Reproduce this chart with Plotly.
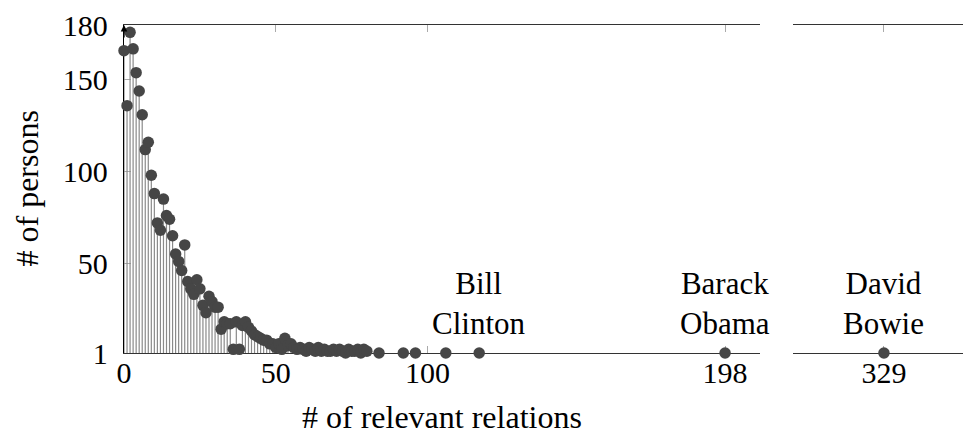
import plotly.graph_objects as go

# x: number of relevant relations, y: number of persons
relations = [0, 1, 2, 3, 4, 5, 6, 7, 8, 9, 10, 11, 12, 13, 14, 15, 16, 17, 18, 19,
             20, 21, 22, 23, 24, 25, 26, 27, 28, 29, 30, 31, 32, 33, 34, 35, 36, 37, 38, 39,
             40, 41, 42, 43, 44, 45, 46, 47, 48, 49, 50, 51, 52, 53, 54, 55, 56, 57, 58, 59,
             60, 61, 62, 63, 64, 65, 66, 67, 68, 69, 70, 71, 72, 73, 74, 75, 76, 77, 78, 79,
             80, 84, 92, 96, 106, 117, 198, 329]
persons = [166, 136, 176, 167, 154, 144, 131, 112, 116, 98, 88, 72, 68, 85, 76, 74, 65, 55, 51, 46,
           60, 40, 36, 33, 41, 36, 27, 23, 32, 29, 26, 26, 14, 18, 17, 17, 3, 18, 3, 16,
           18, 15, 13, 11, 10, 9, 8, 8, 6, 6, 4, 6, 3, 9, 5, 6, 4, 3, 4, 3,
           2, 4, 3, 2, 4, 2, 3, 2, 2, 3, 2, 3, 2, 1, 3, 2, 2, 3, 1, 3,
           2, 1, 1, 1, 1, 1, 1, 1]

name_labels = ["Bill<br>Clinton", "Barack<br>Obama", "David<br>Bowie"]
name_x = [117, 198, 329]

x_ticks_left = [0, 50, 100, 198]
x_ticks_right = [329]
y_ticks = [1, 50, 100, 150, 180]
y_ticks_right = [50, 100, 150]

BREAK = 250
FONT = "Liberation Serif"
FS = 30
FS_TEXT = 31
FS_TITLE = 32
MARK = "#464646"
STEM = "#8a8a8a"
TICK = "#aaaaaa"
LINE = "#333333"

# page has an 8px body margin; plot area spans page x 124..971, y 18..353
PW, PH = 847, 335


def stems(xs, ys):
    sx, sy = [], []
    for xv, yv in zip(xs, ys):
        sx += [xv, xv, None]
        sy += [1, yv, None]
    return sx, sy


lx = [a for a in relations if a < BREAK]
ly = [b for a, b in zip(relations, persons) if a < BREAK]
rx = [a for a in relations if a >= BREAK]
ry = [b for a, b in zip(relations, persons) if a >= BREAK]

fig = go.Figure()
for xs, ys, xa, ya in [(lx, ly, "x", "y"), (rx, ry, "x2", "y2")]:
    sx, sy = stems(xs, ys)
    fig.add_trace(go.Scatter(x=sx, y=sy, mode="lines", xaxis=xa, yaxis=ya,
                             line=dict(color=STEM, width=1.2), hoverinfo="skip",
                             showlegend=False, cliponaxis=False))
    fig.add_trace(go.Scatter(x=xs, y=ys, mode="markers", xaxis=xa, yaxis=ya,
                             marker=dict(color=MARK, size=11.5, line=dict(width=0)),
                             showlegend=False, cliponaxis=False))

axis_common = dict(showgrid=False, zeroline=False, ticks="inside", ticklen=7,
                   tickcolor=TICK, tickwidth=1, showline=True, linecolor=LINE,
                   linewidth=1.3, mirror="ticks", layer="below traces",
                   ticklabelstandoff=-7, ticklabeloverflow="allow",
                   tickfont=dict(family=FONT, size=FS, color="black"))

fig.update_layout(
    width=963, height=426,
    margin=dict(l=116, r=0, t=10, b=81),
    paper_bgcolor="white", plot_bgcolor="white",
    font=dict(family=FONT, size=FS, color="black"),
    xaxis=dict(domain=[0, 636 / PW], range=[0, 209.5], tickvals=x_ticks_left,
               anchor="y", **axis_common),
    xaxis2=dict(domain=[669 / PW, 1], range=[299, 357.7], tickvals=x_ticks_right,
                anchor="y2", **axis_common),
    yaxis=dict(range=[1, 180], tickvals=y_ticks, anchor="x", showgrid=False,
               zeroline=False, ticks="inside", ticklen=7, tickcolor=TICK,
               showline=True, linecolor="black", linewidth=1.3,
               layer="below traces", ticklabelstandoff=9,
               ticklabeloverflow="allow",
               tickfont=dict(family=FONT, size=FS, color="black")),
    yaxis2=dict(range=[1, 180], tickvals=y_ticks_right, anchor="x2", side="right",
                showgrid=False, zeroline=False, ticks="inside", ticklen=7,
                tickcolor=TICK, showline=False, showticklabels=False),
)

for txt, xv in zip(name_labels, name_x):
    right = xv >= BREAK
    fig.add_annotation(x=xv, y=28, xref="x2" if right else "x",
                       yref="y2" if right else "y",
                       text=txt, showarrow=False, xanchor="center", yanchor="middle",
                       align="center",
                       font=dict(family=FONT, size=FS_TEXT, color="black"))

# axis titles
fig.add_annotation(xref="paper", yref="paper", x=(442 - 124) / PW, y=(353 - 418) / PH,
                   text="# of relevant relations", showarrow=False,
                   xanchor="center", yanchor="middle",
                   font=dict(family=FONT, size=FS_TITLE, color="black"))
fig.add_annotation(xref="paper", yref="paper", x=(27 - 124) / PW, y=(353 - 185) / PH,
                   text="# of persons", showarrow=False, textangle=-90,
                   xanchor="center", yanchor="middle",
                   font=dict(family=FONT, size=FS_TITLE, color="black"))
# arrow tip at top of the y axis
fig.add_annotation(x=0, y=180, xref="x", yref="y", ax=0, ay=14, text="",
                   showarrow=True, arrowhead=2, arrowsize=1, arrowwidth=1.3,
                   arrowcolor="black")

fig.write_html("out.html")
